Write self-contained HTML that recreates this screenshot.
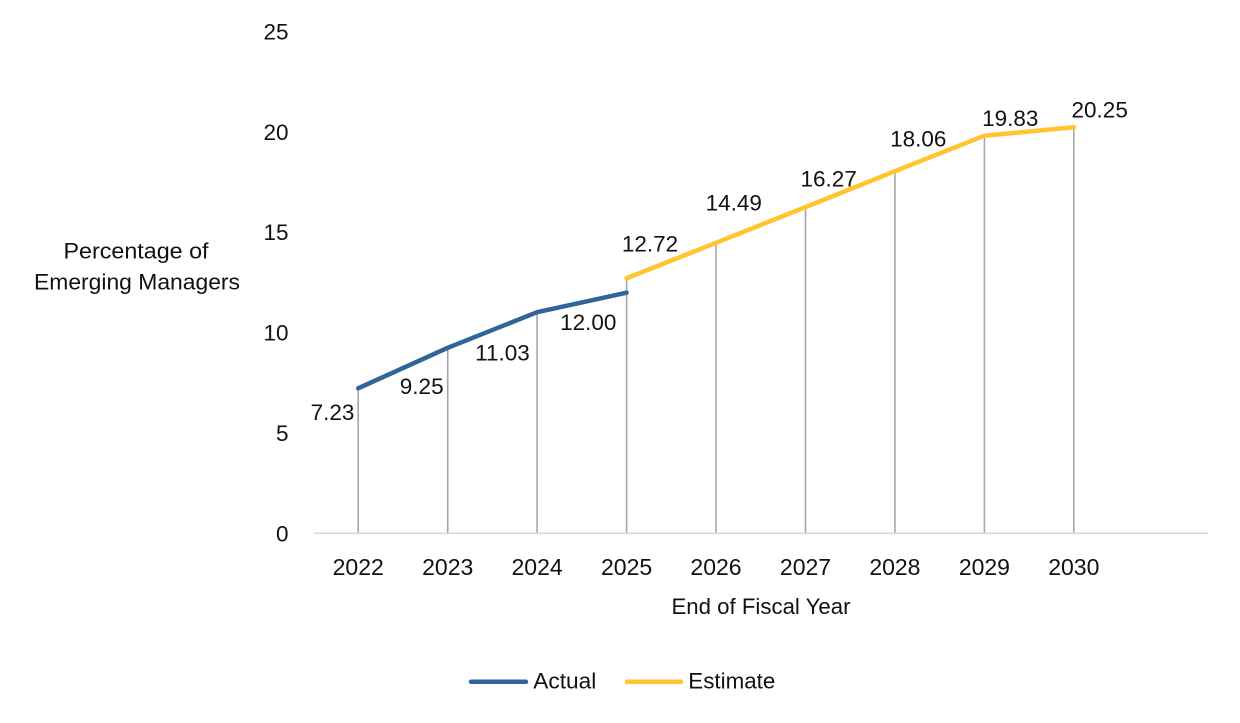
<!DOCTYPE html>
<html>
<head>
<meta charset="utf-8">
<style>
  html, body { margin: 0; padding: 0; background: #ffffff; }
  svg { display: block; }
  text { font-family: "Liberation Sans", Arial, sans-serif; fill: #111111; }
</style>
</head>
<body>
<svg width="1240" height="723" viewBox="0 0 1240 723" xmlns="http://www.w3.org/2000/svg">
  <rect x="0" y="0" width="1240" height="723" fill="#ffffff"/>

  <!-- Drop lines -->
  <g stroke="#a6a6a6" stroke-width="1.6">
    <line x1="358.2" y1="388.3" x2="358.2" y2="533.3"/>
    <line x1="447.7" y1="347.8" x2="447.7" y2="533.3"/>
    <line x1="537.1" y1="312.2" x2="537.1" y2="533.3"/>
    <line x1="626.6" y1="278.3" x2="626.6" y2="533.3"/>
    <line x1="716.0" y1="242.8" x2="716.0" y2="533.3"/>
    <line x1="805.5" y1="207.1" x2="805.5" y2="533.3"/>
    <line x1="894.9" y1="171.2" x2="894.9" y2="533.3"/>
    <line x1="984.4" y1="135.7" x2="984.4" y2="533.3"/>
    <line x1="1073.8" y1="127.3" x2="1073.8" y2="533.3"/>
  </g>

  <!-- X axis line -->
  <line x1="313.5" y1="533.3" x2="1208" y2="533.3" stroke="#d9d9d9" stroke-width="1.6"/>

  <!-- Series -->
  <polyline fill="none" stroke="#30659a" stroke-width="4.5" stroke-linejoin="round" stroke-linecap="round"
    points="358.2,388.3 447.7,347.8 537.1,312.2 626.6,292.7"/>
  <polyline fill="none" stroke="#ffc42e" stroke-width="4.5" stroke-linejoin="round" stroke-linecap="round"
    points="626.6,278.3 716.0,242.8 805.5,207.1 894.9,171.2 984.4,135.7 1073.8,127.3"/>

  <!-- Y tick labels -->
  <g font-size="22.5" text-anchor="end">
    <text x="288.5" y="39.5">25</text>
    <text x="288.5" y="139.8">20</text>
    <text x="288.5" y="240.2">15</text>
    <text x="288.5" y="340.5">10</text>
    <text x="288.5" y="440.9">5</text>
    <text x="288.5" y="541.5">0</text>
  </g>

  <!-- X tick labels -->
  <g font-size="23" text-anchor="middle">
    <text x="358.2" y="575">2022</text>
    <text x="447.7" y="575">2023</text>
    <text x="537.1" y="575">2024</text>
    <text x="626.6" y="575">2025</text>
    <text x="716.0" y="575">2026</text>
    <text x="805.5" y="575">2027</text>
    <text x="894.9" y="575">2028</text>
    <text x="984.4" y="575">2029</text>
    <text x="1073.8" y="575">2030</text>
  </g>

  <!-- Axis titles -->
  <text x="761" y="614" font-size="22.5" text-anchor="middle" textLength="179" lengthAdjust="spacingAndGlyphs">End of Fiscal Year</text>
  <text x="136" y="258.3" font-size="22.5" text-anchor="middle" textLength="145" lengthAdjust="spacingAndGlyphs">Percentage of</text>
  <text x="137" y="289.3" font-size="22.5" text-anchor="middle" textLength="206" lengthAdjust="spacingAndGlyphs">Emerging Managers</text>

  <!-- Data labels -->
  <g font-size="22.5" text-anchor="middle">
    <text x="332.5" y="420">7.23</text>
    <text x="421.7" y="394">9.25</text>
    <text x="502.5" y="360.7">11.03</text>
    <text x="588.3" y="330">12.00</text>
    <text x="650" y="251.7">12.72</text>
    <text x="733.8" y="210.7">14.49</text>
    <text x="828.7" y="186.7">16.27</text>
    <text x="918.3" y="146.7">18.06</text>
    <text x="1010.3" y="126">19.83</text>
    <text x="1099.7" y="117.7">20.25</text>
  </g>

  <!-- Legend -->
  <line x1="471" y1="681.8" x2="526" y2="681.8" stroke="#30659a" stroke-width="4.5" stroke-linecap="round"/>
  <text x="533.3" y="688.5" font-size="22.5" textLength="63" lengthAdjust="spacingAndGlyphs">Actual</text>
  <line x1="627" y1="681.8" x2="681" y2="681.8" stroke="#ffc42e" stroke-width="4.5" stroke-linecap="round"/>
  <text x="688.3" y="688.5" font-size="22.5" textLength="87" lengthAdjust="spacingAndGlyphs">Estimate</text>
</svg>
</body>
</html>
